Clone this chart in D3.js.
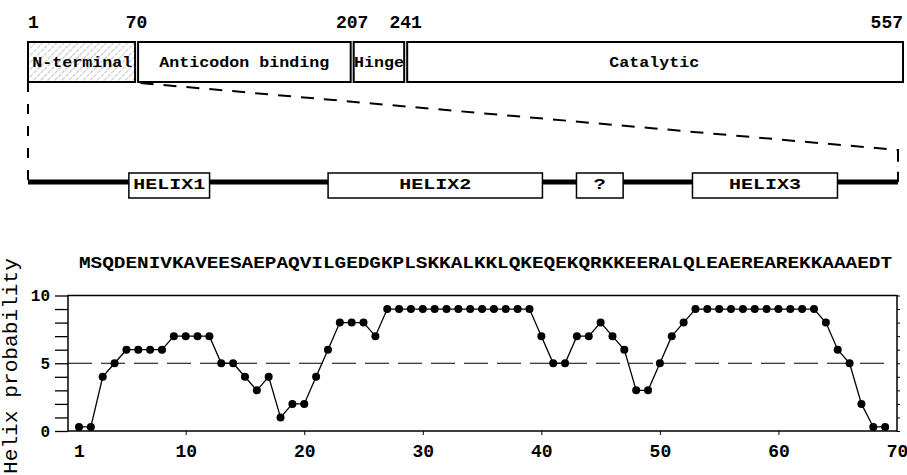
<!DOCTYPE html>
<html>
<head>
<meta charset="utf-8">
<script src="https://cdn.jsdelivr.net/npm/d3@7"></script>
<style>
body{margin:0;background:#fff;}
text{font-family:"Liberation Mono","Courier New",monospace;fill:#000;}
</style>
</head>
<body>
<svg id="chart" width="907" height="475"></svg>
<script>
// domain map of the whole protein
const domainNames = ["N-terminal", "Anticodon binding", "Hinge", "Catalytic"];
const domainStarts = [1, 70, 207, 241];
const domainEnds = [70, 207, 241, 557];
const boundaryLabels = [1, 70, 207, 241, 557];

// zoomed N-terminal region
const helixNames = ["HELIX1", "HELIX2", "?", "HELIX3"];
const helixStarts = [9, 24.8, 44.5, 53.7];
const helixEnds = [15.4, 41.8, 48.2, 65.2];

const sequence = "MSQDENIVKAVEESAEPAQVILGEDGKPLSKKALKKLQKEQEKQRKKEERALQLEAEREAREKKAAAEDT";
const helixProb = [0.3, 0.3, 4, 5, 6, 6, 6, 6, 7, 7,
                   7, 7, 5, 5, 4, 3, 4, 1, 2, 2,
                   4, 6, 8, 8, 8, 7, 9, 9, 9, 9,
                   9, 9, 9, 9, 9, 9, 9, 9, 9, 7,
                   5, 5, 7, 7, 8, 7, 6, 3, 3, 5,
                   7, 8, 9, 9, 9, 9, 9, 9, 9, 9,
                   9, 9, 9, 8, 6, 5, 2, 0.3, 0.3];
const xTicks = [1, 10, 20, 30, 40, 50, 60, 70];
const yTicks = [0, 5, 10];
const threshold = 5;

const W = 907, H = 475;
let svg = d3.select("#chart");
svg.append("rect").attr("width", W).attr("height", H).attr("fill", "#fff");

let defs = svg.append("defs");
let pat = defs.append("pattern")
    .attr("id", "hatch")
    .attr("patternUnits", "userSpaceOnUse")
    .attr("width", 5).attr("height", 5)
    .attr("patternTransform", "rotate(45)");
pat.append("rect").attr("width", 5).attr("height", 5).attr("fill", "#fff");
pat.append("line").attr("x1", 0).attr("y1", 0).attr("x2", 0).attr("y2", 5)
    .attr("stroke", "#8a8a8a").attr("stroke-width", 1).attr("stroke-dasharray", "3,1");

// ---- top bar ----
let mapX = d3.scaleLinear().domain([1, 557]).range([28, 903]);
let bar = {"top": 42, "height": 40, "gap": 1.5};

let domains = domainNames.map(function (n, i) {
    return {name: n, start: domainStarts[i], end: domainEnds[i], i: i};
});
let last = domains.length - 1;

let dg = svg.append("g");
dg.selectAll("rect")
    .data(domains)
    .join("rect")
    .attr("x", d => mapX(d.start) + (d.i > 0 ? bar.gap : 0))
    .attr("y", bar.top)
    .attr("width", d => mapX(d.end) - mapX(d.start) - (d.i > 0 ? bar.gap : 0) - (d.i < last ? bar.gap : 0))
    .attr("height", bar.height)
    .attr("fill", d => d.i == 0 ? "url(#hatch)" : "#fff")
    .attr("stroke", "#000")
    .attr("stroke-width", 2);

dg.selectAll("text")
    .data(domains)
    .join("text")
    .attr("x", d => (mapX(d.start) + mapX(d.end)) / 2)
    .attr("y", bar.top + 25)
    .attr("text-anchor", "middle")
    .attr("font-size", 15)
    .attr("font-weight", "bold")
    .attr("textLength", d => d.name.length * 10)
    .attr("lengthAdjust", "spacingAndGlyphs")
    .text(d => d.name);

svg.append("g").selectAll("text")
    .data(boundaryLabels)
    .join("text")
    .attr("x", d => mapX(d))
    .attr("y", 28)
    .attr("text-anchor", (d, i) => i == 0 ? "start" : (i == boundaryLabels.length - 1 ? "end" : "middle"))
    .attr("font-size", 18)
    .attr("font-weight", "bold")
    .text(d => d);

// ---- zoomed helix line ----
let helixX = d3.scaleLinear().domain([1, 70]).range([28, 898]);
let lineY = 182;

svg.append("path")
    .attr("d", "M" + mapX(1) + "," + (bar.top + bar.height) + "V" + lineY)
    .attr("fill", "none").attr("stroke", "#000").attr("stroke-width", 2)
    .attr("stroke-dasharray", "10,12");
svg.append("path")
    .attr("d", "M" + (mapX(70) + 4) + "," + (bar.top + bar.height + 1) +
               "L" + helixX(70) + ",150V" + lineY)
    .attr("fill", "none").attr("stroke", "#000").attr("stroke-width", 2)
    .attr("stroke-dasharray", "13,10");

svg.append("line")
    .attr("x1", helixX(1)).attr("x2", helixX(70))
    .attr("y1", lineY).attr("y2", lineY)
    .attr("stroke", "#000").attr("stroke-width", 5);

let helices = helixNames.map(function (n, i) {
    return {name: n, start: helixStarts[i], end: helixEnds[i]};
});
let hg = svg.append("g");
hg.selectAll("rect")
    .data(helices)
    .join("rect")
    .attr("x", d => helixX(d.start))
    .attr("y", 173)
    .attr("width", d => helixX(d.end) - helixX(d.start))
    .attr("height", 25)
    .attr("fill", "#fff")
    .attr("stroke", "#000")
    .attr("stroke-width", 1.5);
hg.selectAll("text")
    .data(helices)
    .join("text")
    .attr("x", d => (helixX(d.start) + helixX(d.end)) / 2)
    .attr("y", 189)
    .attr("text-anchor", "middle")
    .attr("font-size", 14)
    .attr("font-weight", "bold")
    .attr("textLength", d => d.name.length * 12)
    .attr("lengthAdjust", "spacingAndGlyphs")
    .text(d => d.name);

// ---- helix probability plot ----
let x = d3.scaleLinear().domain([1, 70]).range([79, 897]);
let y = d3.scaleLinear().domain([0, 10]).range([431, 295.5]);
let frameLeft = 68;

svg.append("text")
    .attr("x", x(1))
    .attr("y", 268)
    .attr("font-size", 16)
    .attr("font-weight", "bold")
    .attr("textLength", x(70) - x(1) - 5)
    .attr("lengthAdjust", "spacingAndGlyphs")
    .text(sequence);

svg.append("text")
    .attr("transform", "translate(17,474) rotate(-90)")
    .attr("font-size", 21)
    .attr("textLength", 216)
    .attr("lengthAdjust", "spacingAndGlyphs")
    .text("Helix probability");

let yAxis = svg.append("g")
    .attr("transform", "translate(" + frameLeft + ",0)")
    .call(d3.axisLeft(y)
        .tickValues(d3.range(0, 11))
        .tickSize(13)
        .tickSizeOuter(0)
        .tickPadding(5)
        .tickFormat(d => yTicks.includes(d) ? d : ""));
yAxis.select(".domain").remove();
yAxis.selectAll("line").attr("stroke-width", 1.3);
yAxis.selectAll("text")
    .attr("font-family", "Liberation Mono, monospace")
    .attr("font-size", 16)
    .attr("font-weight", "bold");

// small inward ticks on the right border
let rAxis = svg.append("g")
    .attr("transform", "translate(" + x(70) + ",0)")
    .call(d3.axisLeft(y).tickValues(d3.range(0, 11)).tickSize(-3).tickSizeOuter(0).tickFormat(""));
rAxis.select(".domain").remove();

let xAxis = svg.append("g")
    .attr("transform", "translate(0," + y(0) + ")")
    .call(d3.axisBottom(x)
        .tickValues(xTicks)
        .tickSize(4)
        .tickSizeOuter(0)
        .tickPadding(9));
xAxis.select(".domain").remove();
xAxis.selectAll(".tick").filter(d => d == 1 || d == 70).select("line").remove();
xAxis.selectAll("text")
    .attr("font-family", "Liberation Mono, monospace")
    .attr("font-size", 18)
    .attr("font-weight", "bold");

svg.append("rect")
    .attr("x", frameLeft)
    .attr("y", y(10))
    .attr("width", x(70) - frameLeft)
    .attr("height", y(0) - y(10))
    .attr("fill", "none")
    .attr("stroke", "#000")
    .attr("stroke-width", 1.5);

svg.append("line")
    .attr("x1", frameLeft).attr("x2", x(69) + 2)
    .attr("y1", y(threshold)).attr("y2", y(threshold))
    .attr("stroke", "#000")
    .attr("stroke-width", 1.2)
    .attr("stroke-dasharray", "24,9");

let line = d3.line()
    .x((d, i) => x(i + 1))
    .y(d => y(d));

svg.append("path")
    .datum(helixProb)
    .attr("d", line)
    .attr("fill", "none")
    .attr("stroke", "#000")
    .attr("stroke-width", 1.3);

svg.append("g").selectAll("circle")
    .data(helixProb)
    .join("circle")
    .attr("cx", (d, i) => x(i + 1))
    .attr("cy", d => y(d))
    .attr("r", 4)
    .attr("fill", "#000");
</script>
</body>
</html>
